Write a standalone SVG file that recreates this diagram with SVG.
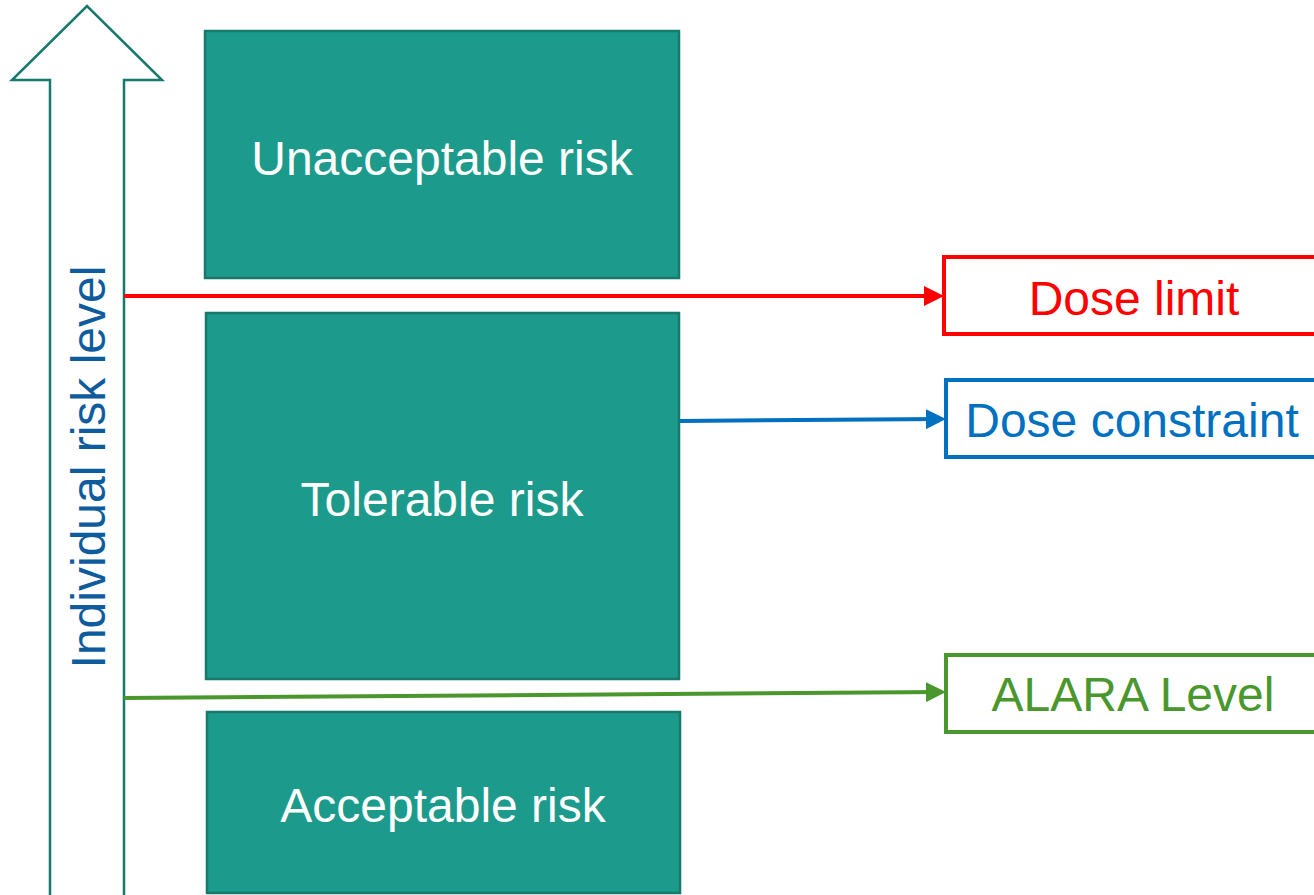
<svg xmlns="http://www.w3.org/2000/svg" width="1314" height="895" viewBox="0 0 1314 895">
<defs>
<style>
.blk{fill:#1c9a8c;stroke:#17786c;stroke-width:2.5}
.bt{fill:#ffffff;font-family:"Liberation Sans",Arial,sans-serif;font-size:48px;text-anchor:middle}
.lt{font-family:"Liberation Sans",Arial,sans-serif;font-size:48px;text-anchor:middle}
</style>
<marker id="mr" markerWidth="5" markerHeight="5" refX="4" refY="2.5" orient="auto" markerUnits="strokeWidth"><path d="M0,0 L5,2.5 L0,5 Z" fill="#ff0000"/></marker>
<marker id="mb" markerWidth="5" markerHeight="5" refX="4" refY="2.5" orient="auto" markerUnits="strokeWidth"><path d="M0,0 L5,2.5 L0,5 Z" fill="#0070c0"/></marker>
<marker id="mg" markerWidth="5" markerHeight="5" refX="4" refY="2.5" orient="auto" markerUnits="strokeWidth"><path d="M0,0 L5,2.5 L0,5 Z" fill="#4a972e"/></marker>
</defs>
<rect width="1314" height="895" fill="#ffffff"/>
<g id="axis">
<path d="M50,900 L50,80 L12,80 L87,6 L162,80 L124,80 L124,900" fill="#ffffff" stroke="#17786c" stroke-width="2.5"/>
<text class="lt" fill="#0e5c9e" transform="translate(105,467) rotate(-90)">Individual risk level</text>
</g>
<g id="unacceptable"><rect class="blk" x="205" y="31" width="474" height="247"/><text class="bt" x="442" y="175">Unacceptable risk</text></g>
<g id="tolerable"><rect class="blk" x="206" y="313" width="473" height="366"/><text class="bt" x="442" y="516">Tolerable risk</text></g>
<g id="acceptable"><rect class="blk" x="207" y="712" width="473" height="181"/><text class="bt" x="443" y="822">Acceptable risk</text></g>
<g id="doselimit"><rect x="944" y="257" width="380" height="77" fill="#ffffff" stroke="#ff0000" stroke-width="4"/><text class="lt" fill="#ff0000" x="1134" y="315">Dose limit</text></g>
<g id="doseconstraint"><rect x="946" y="380" width="380" height="77" fill="#ffffff" stroke="#0070c0" stroke-width="4"/><text class="lt" fill="#0070c0" x="1132" y="437">Dose constraint</text></g>
<g id="alara"><rect x="946" y="655" width="380" height="77" fill="#ffffff" stroke="#4a972e" stroke-width="4"/><text class="lt" fill="#4a972e" x="1133" y="711">ALARA Level</text></g>
<g id="connectors" fill="none" stroke-width="4">
<line x1="124" y1="296" x2="940" y2="296" stroke="#ff0000" marker-end="url(#mr)"/>
<line x1="680" y1="421" x2="942" y2="419" stroke="#0070c0" marker-end="url(#mb)"/>
<line x1="124" y1="698" x2="942" y2="692" stroke="#4a972e" marker-end="url(#mg)"/>
</g>
</svg>
